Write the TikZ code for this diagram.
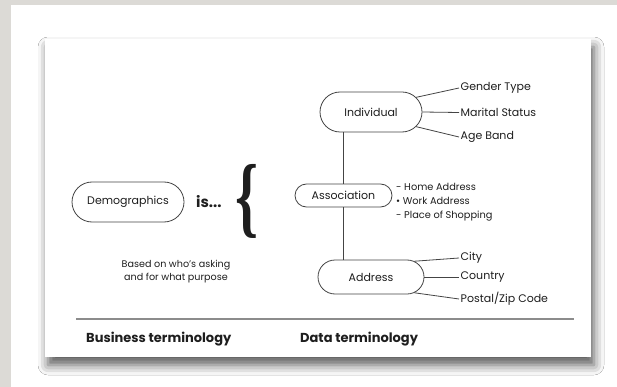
\documentclass[tikz,border=0pt]{standalone}
\usepackage{fontspec}
\setmainfont{Poppins}
\newfontfamily\bracefont{Liberation Serif}
\usetikzlibrary{shapes.misc,shadows.blur}
\definecolor{page}{HTML}{DCDAD6}
\definecolor{ink}{HTML}{1E1E1E}
\definecolor{edge}{HTML}{444444}
\definecolor{rulegray}{HTML}{8C8C8C}
\tikzset{
  pill/.style={rounded rectangle, draw=edge, line width=0.8pt, text=ink,
    font=\fontsize{11}{12}\selectfont, inner sep=0pt},
  link/.style={draw=edge, line width=0.8pt},
  leaf/.style={anchor=west, text=ink, inner sep=1.5pt,
    font=\fontsize{11}{12}\selectfont},
  small/.style={text=ink, font=\fontsize{9.8}{14}\selectfont},
  caption/.style={text=ink, font=\bfseries\fontsize{13}{14}\selectfont},
}
\begin{document}
\begin{tikzpicture}[x=1pt,y=-1pt]
\useasboundingbox (0,0) rectangle (617,387);
% page background and card
\fill[page] (0,0) rectangle (617,387);
\fill[white] (11,5) rectangle (617,387);
\fill[white, blur shadow={shadow xshift=3pt, shadow yshift=-8pt,
  shadow blur radius=10pt, shadow opacity=65}] (45,39) rectangle (591,357);

% business side
\node[pill, minimum width=112pt, minimum height=40pt] (demo) at (128,202) {Demographics};
\node[text=ink, font=\bfseries\fontsize{15}{16}\selectfont, anchor=west, inner sep=0pt] (is) at (196,202) {is...};
\node[text=ink, inner sep=0pt] (brace) at (246.5,201) {\resizebox*{23pt}{74pt}{\bracefont\bfseries\{}};
\node[small, align=center, font=\fontsize{9.6}{13}\selectfont] (based) at (176,272) {Based on who’s asking\\and for what purpose};

% data side
\node[pill, minimum width=102pt, minimum height=40pt] (ind) at (371,112) {Individual};
\node[pill, minimum width=97pt, minimum height=23pt] (assoc) at (343.5,195.5) {Association};
\node[pill, minimum width=106pt, minimum height=34pt] (addr) at (371,277) {Address};

\node[leaf] (gender) at (459,88) {Gender Type};
\node[leaf] (marital) at (459,112.5) {Marital Status};
\node[leaf] (age) at (459,137) {Age Band};
\node[leaf] (city) at (459,258) {City};
\node[leaf] (country) at (459,277) {Country};
\node[leaf] (postal) at (459,299) {Postal/Zip Code};

\node[small, anchor=north west, align=left, inner sep=0pt] (list) at (396,183)
  {- Home Address\\• Work Address\\- Place of Shopping};

\draw[link] (ind.18) -- (gender.west);
\draw[link] (ind.east) -- (marital.west);
\draw[link] (ind.-18) -- (age.west);
\draw[link] (addr.20) -- (city.west);
\draw[link] (addr.east) -- (country.west);
\draw[link] (addr.-20) -- (postal.west);
\draw[link] (ind.south -| assoc.north) -- (assoc.north);
\draw[link] (assoc.south) -- (assoc.south |- addr.north);

% footer
\coordinate (ruleL) at (76,319);
\coordinate (ruleR) at (574,319);
\draw[rulegray, line width=1.3pt] (ruleL) -- (ruleR);
\node[caption, anchor=west, inner sep=0pt] (business) at (86,339) {Business terminology};
\node[caption, anchor=west, inner sep=0pt] (data) at (300,339) {Data terminology};
\end{tikzpicture}
\end{document}
